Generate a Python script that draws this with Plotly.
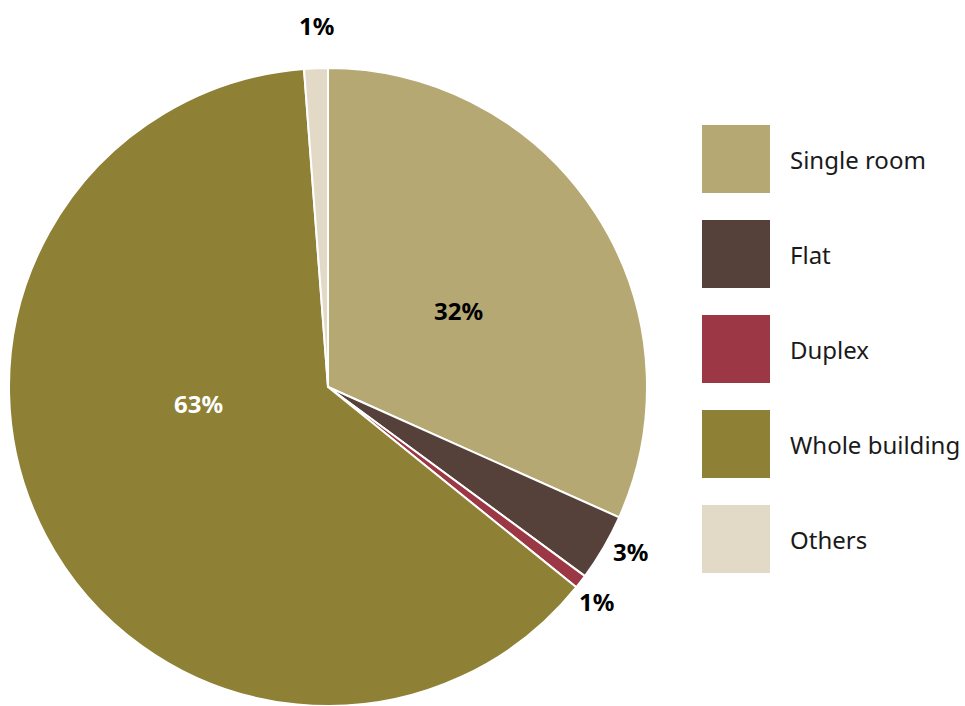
import plotly.graph_objects as go

categories = ["Single room", "Flat", "Duplex", "Whole building", "Others"]
values = [31.7, 3.4, 0.7, 63.0, 1.2]
colors = ["#B5A873", "#56413A", "#9C3745", "#8E8034", "#E2DAC7"]
text_colors = ["#000000", "#000000", "#000000", "#FFFFFF", "#000000"]

W, H = 965, 706
FONT = "Noto Sans"

# label anchor positions (pixels) for the percentage labels
label_px = [(458, 311), (630, 551), (596, 601), (198, 403), (316, 25)]

fig = go.Figure()
fig.add_trace(go.Pie(
    labels=categories,
    values=values,
    sort=False,
    direction="clockwise",
    rotation=0,
    marker=dict(colors=colors, line=dict(color="white", width=2)),
    textinfo="none",
    domain=dict(x=[9 / W, 647 / W], y=[0, 1 - 68 / H]),
    showlegend=False,
    hoverinfo="label+percent",
))

total = sum(values)
annotations = []
for v, (px, py), tc in zip(values, label_px, text_colors):
    annotations.append(dict(xref="paper", yref="paper", x=px / W, y=1 - py / H,
                            text="<b>%d%%</b>" % max(1, round(100 * v / total)),
                            showarrow=False, xanchor="center", yanchor="middle",
                            font=dict(family=FONT, size=24, color=tc)))

# custom legend with large swatches
shapes = []
top0, step, size, x0 = 125, 95, 68, 702
for i, (cat, col) in enumerate(zip(categories, colors)):
    t = top0 + i * step
    shapes.append(dict(type="rect", xref="paper", yref="paper",
                       x0=x0 / W, x1=(x0 + size) / W,
                       y0=1 - (t + size) / H, y1=1 - t / H,
                       fillcolor=col, line=dict(width=0)))
    annotations.append(dict(xref="paper", yref="paper", x=788 / W,
                            y=1 - (t + size / 2) / H, text=cat,
                            showarrow=False, xanchor="left", yanchor="middle",
                            font=dict(family=FONT, size=24, color="#1a1a1a")))

fig.update_layout(
    width=W, height=H,
    margin=dict(l=0, r=0, t=0, b=0),
    paper_bgcolor="white", plot_bgcolor="white",
    shapes=shapes, annotations=annotations,
)

fig.write_html("out.html")
